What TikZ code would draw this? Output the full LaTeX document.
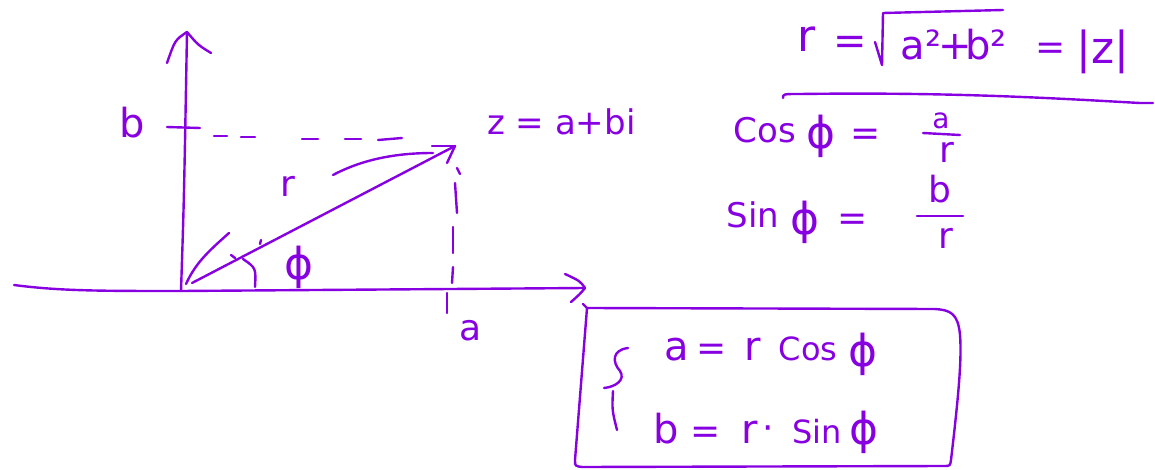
\documentclass[tikz,border=0pt]{standalone}
\usepackage{fontspec}
\setmainfont{DejaVu Sans}
\definecolor{ink}{RGB}{135,0,225}
\begin{document}
\begin{tikzpicture}[x=1pt,y=-1pt,
  pen/.style={draw=ink,line width=2.4pt,line cap=round,line join=round},
  tok/.style={text=ink,inner sep=0pt,anchor=base},
  s28/.style={tok,font=\fontsize{28}{32}\selectfont},
  s32/.style={tok,font=\fontsize{32}{38}\selectfont},
  s34/.style={tok,font=\fontsize{34}{40}\selectfont},
  s36/.style={tok,font=\fontsize{36}{42}\selectfont},
  s40/.style={tok,font=\fontsize{40}{46}\selectfont},
  s44/.style={tok,font=\fontsize{44}{50}\selectfont},
  phi/.style={tok,font=\fontsize{44}{50}\selectfont}]
\useasboundingbox (0,0) rectangle (1155,470);

% ---------------- axes
\coordinate (xs) at (14,285);
\coordinate (O) at (181,291);
\coordinate (xe) at (585,288);
\coordinate (yt) at (187,32);
\draw[pen] (xs) .. controls (60,291) and (100,291) .. (O) -- (xe);
\draw[pen] (xe) .. controls (580,281) .. ++(-20,-14);
\draw[pen] (xe) .. controls (580,294) .. ++(-14,14);
\draw[pen] (O) .. controls (184,200) .. (yt);
\draw[pen] (yt) .. controls (175,40) .. ++(-20,31);
\draw[pen] (yt) .. controls (198,45) .. ++(24,21);

% ---------------- vector r
\coordinate (r0) at (192,283);
\coordinate (z) at (455,146);
\draw[pen] (r0) -- (z);
\draw[pen] (z) .. controls (445,146) .. ++(-23,0);
\draw[pen] (z) -- ++(-8,17);
\draw[pen] (333,175) .. controls (365,158) and (400,153) .. (433,153);

% ---------------- dashed projections
\draw[pen] (167,127) -- (200,128);
\foreach \xa/\ya/\xb/\yb in {214/136/227/136, 241/137/255/137, 302/139/318/139,
    345/139/361/139, 378/140/402/138}
  \draw[pen] (\xa,\ya) -- (\xb,\yb);
\foreach \xa/\ya/\xb/\yb in {455/183/457/213, 453/227/453/253, 453/267/452/283,
    447/293/447/313}
  \draw[pen] (\xa,\ya) -- (\xb,\yb);
\draw[pen] (457,168) -- (460,174);

% ---------------- angle
\draw[pen] (186,284) .. controls (196,262) and (210,250) .. (229,233);
\draw[pen] (231,255) -- (235,258);
\draw[pen] (261,240) -- (260,244);
\draw[pen] (243,259) .. controls (256,268) .. (255,287);

% ---------------- labels on the plot
\node[s40] (lb) at (132,138) {b};
\node[s34,anchor=base west] (lz) at (487,135) {z = a+bi};
\node[s36] (lr) at (288,197) {r};
\node[phi] (lphi) at (299,279) {ϕ};
\node[s36] (la) at (471,340) {a};

% ---------------- r = sqrt(a^2+b^2) = |z|
\node[s44] (t1) at (807,52) {r};
\node[s40] (t2) at (850,55) {=};
\draw[pen] (875,42) -- (882,65) -- (883,13) -- (1003,10);
\node[s40] (t3) at (921,60) {a²};
\node[s40] (t4) at (955,60) {+};
\node[s40] (t5) at (986,60) {b²};
\node[s36] (t6) at (1051,60) {=};
\node[s44] (t7) at (1103,64) {|z|};
\draw[pen] (783,98) .. controls (783,94) .. (800,94) .. controls (950,92) and (1050,98) .. (1140,103) -- (1153,103);

% ---------------- cos and sin
\node[s34] (c1) at (765,143) {Cos};
\node[phi] (c2) at (821,149) {ϕ};
\node[s36] (c3) at (866,146) {=};
\node[s28] (cosn) at (941,129) {a};
\draw[pen] (923,133) -- (960,135);
\node[s36] (cosd) at (947,163) {r};

\node[s34] (s1) at (753,227) {Sin};
\node[phi] (s2) at (805,234) {ϕ};
\node[s36] (s3) at (853,230) {=};
\node[s36] (sinn) at (940,203) {b};
\draw[pen] (917,216) -- (963,216);
\node[s36] (sind) at (946,248) {r};

% ---------------- boxed system
\draw[pen] (583,304) -- (587,308);
\draw[pen] (587,308) -- (575,460) .. controls (575,466) .. (582,467)
  -- (944,466) .. controls (950,466) .. (951,460)
  .. controls (958,400) and (962,360) .. (960,335)
  .. controls (958,313) and (950,310) .. (935,309) -- cycle;
\draw[pen] (628,348) .. controls (612,350) and (612,362) .. (620,371)
  .. controls (626,380) and (615,387) .. (604,388);
\draw[pen] (613,391) .. controls (612,410) .. (617,430);

\node[s40] (e1) at (677,360) {a};
\node[s36] (e2) at (712,360) {=};
\node[s40] (e3) at (753,360) {r};
\node[s32] (e4) at (808,360) {Cos};
\node[phi] (e5) at (863,366) {ϕ};

\node[s40] (f1) at (666,443) {b};
\node[s36] (f2) at (706,443) {=};
\node[s40] (f3) at (750,443) {r};
\node[s36] (f4) at (768,440) {·};
\node[s32] (f5) at (817,443) {Sin};
\node[phi] (f6) at (864,444) {ϕ};
\end{tikzpicture}
\end{document}
